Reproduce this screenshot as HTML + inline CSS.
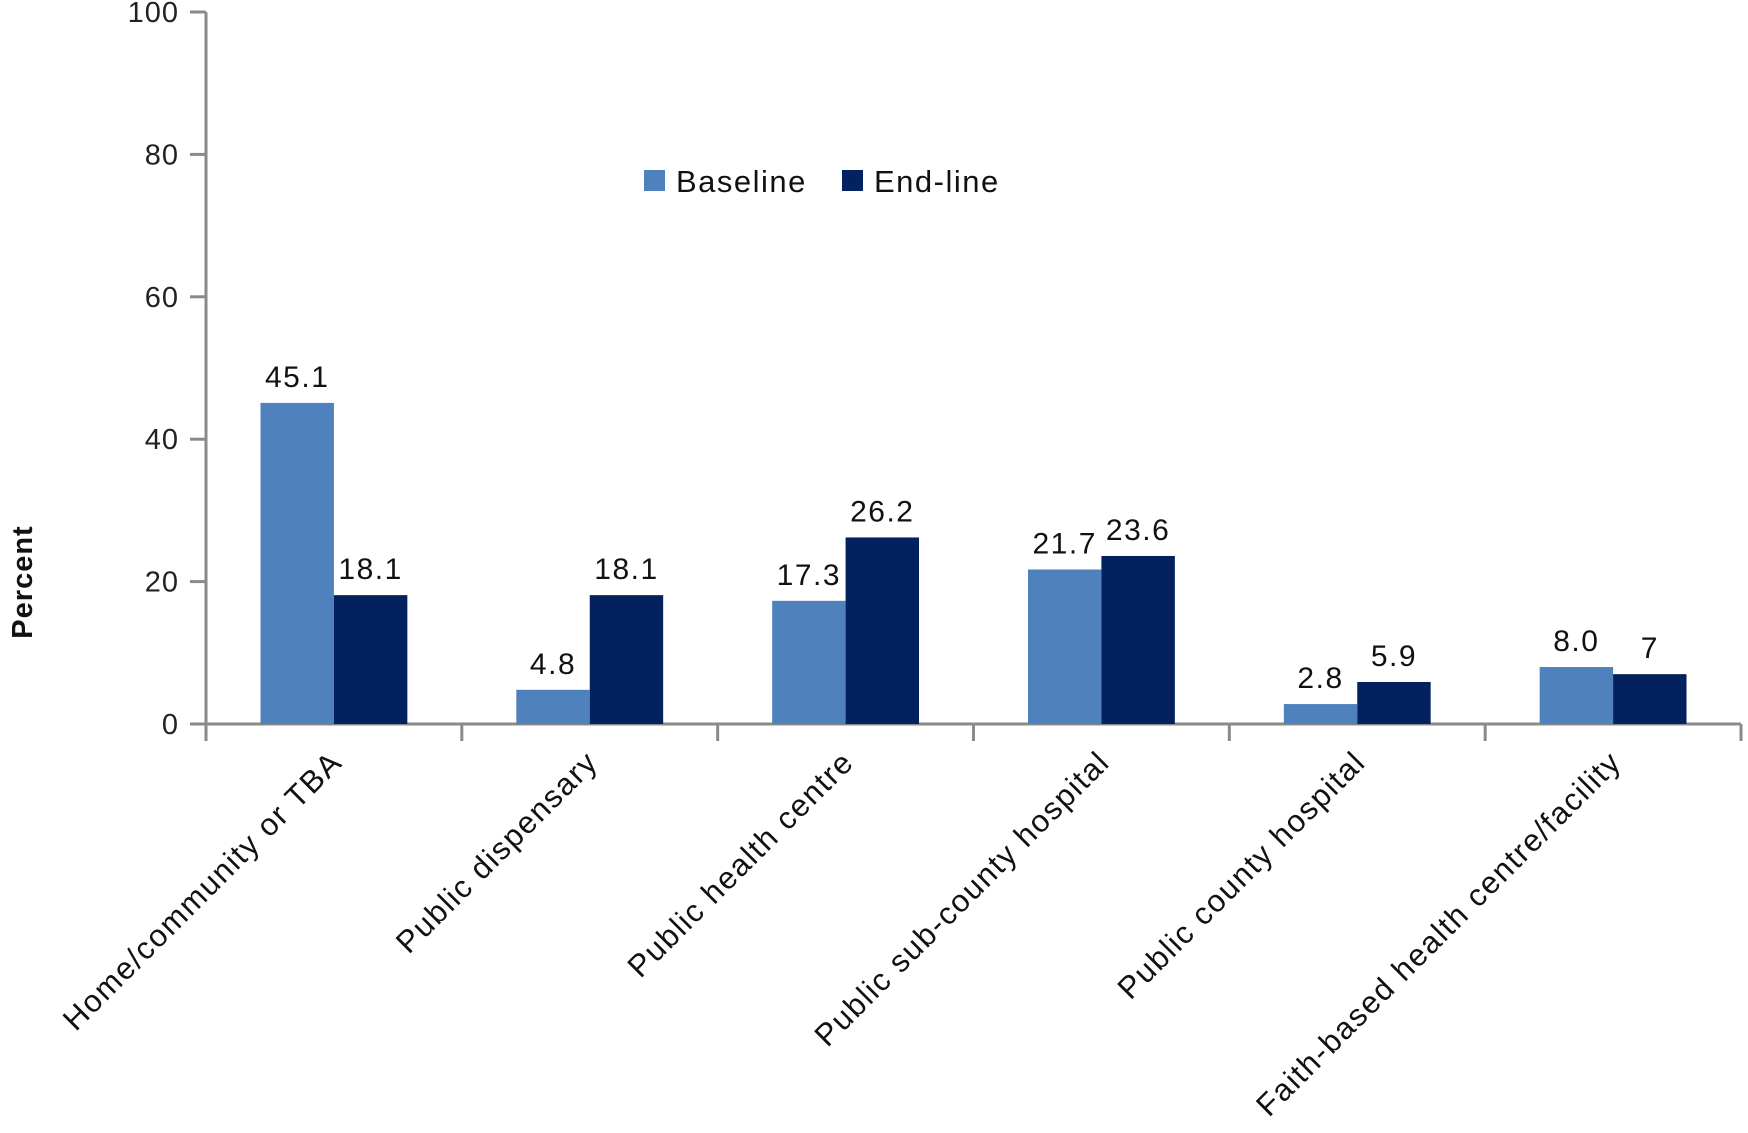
<!DOCTYPE html>
<html><head><meta charset="utf-8"><style>
html,body{margin:0;padding:0;background:#fff;}
svg{display:block;font-family:"Liberation Sans",sans-serif;}
</style></head><body>
<svg id="chart" width="1748" height="1133" viewBox="0 0 1748 1133"></svg>
<script>
const categories=["Home/community or TBA","Public dispensary","Public health centre","Public sub-county hospital","Public county hospital","Faith-based health centre/facility"];
const baselineValues=[45.1,4.8,17.3,21.7,2.8,8.0];
const endlineValues=[18.1,18.1,26.2,23.6,5.9,7];
const baselineLabels=["45.1","4.8","17.3","21.7","2.8","8.0"];
const endlineLabels=["18.1","18.1","26.2","23.6","5.9","7"];
const yTicks=[0,20,40,60,80,100];
const seriesNames=["Baseline","End-line"];

const NS="http://www.w3.org/2000/svg";
const svg=document.getElementById('chart');
const X0=206,X1=1741,Y0=724,Y1=12;
const band=(X1-X0)/categories.length;
const bw=band*0.287;
const y=v=>Y0-(v/100)*(Y0-Y1);
function el(t,a,p){const e=document.createElementNS(NS,t);for(const k in a)e.setAttribute(k,a[k]);(p||svg).appendChild(e);return e;}

const ya=el('line',{x1:X0,y1:Y1,x2:X0,y2:Y0+17,stroke:'#8a8a8a','stroke-width':3});


const xa=el('line',{x1:X0-16,y1:Y0,x2:X1,y2:Y0,stroke:'#8a8a8a','stroke-width':3});


yTicks.forEach(t=>{
  const tk=el('line',{x1:X0-16,y1:y(t),x2:X0,y2:y(t),stroke:'#8a8a8a','stroke-width':3});
  
  
  const tl=el('text',{x:X0-27,y:y(t)+10,'text-anchor':'end','font-size':29,fill:'#222','letter-spacing':1});
  tl.textContent=t;
  
  
});
for(let i=0;i<=categories.length;i++){
  const tk=el('line',{x1:X0+i*band,y1:Y0,x2:X0+i*band,y2:Y0+17,stroke:'#8a8a8a','stroke-width':3});
  
  
}
const yt=el('text',{x:0,y:0,'text-anchor':'middle','font-size':29,'font-weight':'bold',fill:'#111','letter-spacing':1,transform:'translate(32,582) rotate(-90)'});
yt.textContent='Percent';



categories.forEach((c,i)=>{
  const cx=X0+band*(i+0.5);
  const b=el('rect',{x:cx-bw,y:y(baselineValues[i]),width:bw,height:Y0-y(baselineValues[i]),fill:'#4f81bd'});
  
  
  const e=el('rect',{x:cx,y:y(endlineValues[i]),width:bw,height:Y0-y(endlineValues[i]),fill:'#03215e'});
  
  
  const bl=el('text',{x:cx-bw/2,y:y(baselineValues[i])-16,'text-anchor':'middle','font-size':30,fill:'#111','letter-spacing':1.5});
  bl.textContent=baselineLabels[i];
  
  
  const elb=el('text',{x:cx+bw/2,y:y(endlineValues[i])-16,'text-anchor':'middle','font-size':30,fill:'#111','letter-spacing':1.5});
  elb.textContent=endlineLabels[i];
  
  
  const cl=el('text',{x:0,y:0,'text-anchor':'end','font-size':31,fill:'#111','letter-spacing':1.6,transform:`translate(${cx+10},${Y0+40}) rotate(-45)`});
  cl.textContent=c;
  
  
});

const lg=el('g',{});


const lx=[644,842],lc=['#4f81bd','#03215e'];
seriesNames.forEach((n,i)=>{
  const r=el('rect',{x:lx[i],y:170,width:21,height:21,fill:lc[i]},lg);
  
  
  const t=el('text',{x:lx[i]+32,y:192,'font-size':31,fill:'#111','letter-spacing':1.5},lg);
  t.textContent=n;
  
  
});
</script>
</body></html>
